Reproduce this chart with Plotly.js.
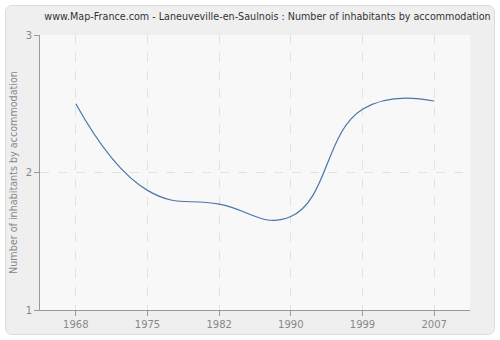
<!DOCTYPE html>
<html><head><meta charset="utf-8">
<script src="https://cdn.plot.ly/plotly-3.0.1.min.js"></script>
<style>
html,body{margin:0;padding:0;background:#fff;}
#bg{position:absolute;left:5px;top:5px;width:488px;height:328px;background:#efefef;border:1px solid #dcdcdc;border-radius:7px;}
#chart{position:absolute;left:0;top:0;width:500px;height:340px;}
</style></head>
<body>
<div id="bg"></div>
<div id="chart"></div>
<script>
var years = ["1968","1975","1982","1990","1999","2007"];
var values = [2.5, 1.87, 1.77, 1.68, 2.46, 2.52];
var yTicks = [1, 2, 3];

Plotly.newPlot('chart', [{
  x: years, y: values, type: 'scatter', mode: 'lines',
  line: {color: '#4a76a8', width: 1.2, shape: 'spline', smoothing: 1.3},
  hoverinfo: 'none'
}], {
  width: 500, height: 340,
  margin: {l: 40, r: 30, t: 35, b: 30},
  paper_bgcolor: 'rgba(0,0,0,0)',
  plot_bgcolor: '#f8f8f8',
  showlegend: false,
  title: {text: 'www.Map-France.com - Laneuveville-en-Saulnois : Number of inhabitants by accommodation',
    font: {family: 'DejaVu Sans', size: 9.6, color: '#333'}, x: 0.535, xanchor: 'center', y: 0.95, yanchor: 'middle'},
  xaxis: {type: 'category', range: [-0.5, 5.5], showgrid: true, gridcolor: '#e2e2e2', griddash: 'dash',
    showline: true, linecolor: '#999', linewidth: 1, ticks: 'outside', ticklen: 5, tickcolor: '#999',
    tickfont: {family: 'DejaVu Sans', size: 10, color: '#888'}, zeroline: false},
  yaxis: {range: [1, 3], tickvals: yTicks, ticktext: yTicks.map(String), showgrid: true, gridcolor: '#e2e2e2', griddash: 'dash',
    showline: true, linecolor: '#999', linewidth: 1, ticks: 'outside', ticklen: 5, tickcolor: '#999',
    tickfont: {family: 'DejaVu Sans', size: 10, color: '#888'}, zeroline: false,
    title: {text: 'Number of inhabitants by accommodation', font: {family: 'DejaVu Sans', size: 9.6, color: '#888'}, standoff: 6}}
}, {staticPlot: true});
</script>
</body></html>
